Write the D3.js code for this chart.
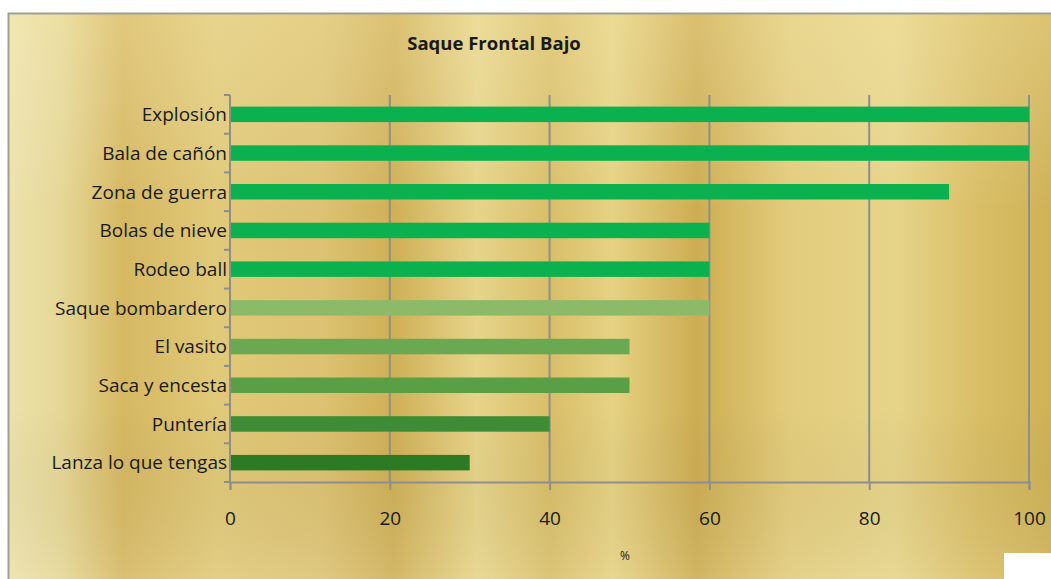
<!DOCTYPE html>
<html>
<head>
<meta charset="utf-8">
<script src="https://cdn.jsdelivr.net/npm/d3@7"></script>
<style>
  html, body { margin: 0; padding: 0; background: #ffffff; }
  svg { display: block; }
</style>
</head>
<body>
<svg id="chart" width="1051" height="579"></svg>
<script>
// data, top to bottom
const categories = [
  "Explosión", "Bala de cañón", "Zona de guerra", "Bolas de nieve", "Rodeo ball",
  "Saque bombardero", "El vasito", "Saca y encesta", "Puntería", "Lanza lo que tengas"
];
const values = [100, 100, 90, 60, 60, 60, 50, 50, 40, 30];
const barColors = [
  "#0cb14f", "#0cb14f", "#0cb14f", "#0cb14f", "#0cb14f",
  "#8dba68", "#6aa851", "#5a9e46", "#3f8c37", "#2c7a23"
];
const xTicks = [0, 20, 40, 60, 80, 100];
const title = "Saque Frontal Bajo";
const xTitle = "%";

const W = 1051, H = 579;
const margin = { top: 95, right: 22, bottom: 97, left: 230 };
const svg = d3.select("#chart");

// gold panel background
const defs = svg.append("defs");
const grad = defs.append("linearGradient").attr("id", "gold")
  .attr("x1", 0).attr("x2", 1).attr("y1", 0).attr("y2", 0);
[[0, "#ece2ab"], [0.05, "#e6d796"], [0.11, "#d6b862"], [0.2, "#e0c978"], [0.3, "#dcc272"],
 [0.37, "#cfb057"], [0.45, "#e6d48a"], [0.52, "#d8be68"], [0.58, "#e5d283"], [0.66, "#cdad52"],
 [0.75, "#e2cc7c"], [0.85, "#e6d489"], [0.93, "#d9be66"], [1, "#cfb256"]]
  .forEach(([o, c]) => grad.append("stop").attr("offset", o).attr("stop-color", c));
const shade = defs.append("linearGradient").attr("id", "shade")
  .attr("x1", 0).attr("x2", 0).attr("y1", 0).attr("y2", 1);
[[0, "#fff6c8", 0.25], [0.35, "#ffffff", 0], [0.7, "#000000", 0], [1, "#ffffff", 0.1]]
  .forEach(([o, c, a]) => shade.append("stop").attr("offset", o).attr("stop-color", c).attr("stop-opacity", a));

svg.append("rect").attr("x", 8).attr("y", 13).attr("width", W - 8).attr("height", H - 13)
  .attr("fill", "url(#gold)");
svg.append("rect").attr("x", 8).attr("y", 13).attr("width", W - 8).attr("height", H - 13)
  .attr("fill", "url(#shade)");
svg.append("path").attr("d", `M8.5,${H}V13.5H${W}`)
  .attr("fill", "none").attr("stroke", "#a09f96").attr("stroke-width", 2);
svg.append("rect").attr("x", 1004).attr("y", 553).attr("width", 47).attr("height", 26)
  .attr("fill", "#ffffff");

const x = d3.scaleLinear().domain([0, 100]).range([margin.left, W - margin.right]);
const y = d3.scaleBand().domain(categories).range([margin.top, H - margin.bottom]).paddingInner(0.6).paddingOuter(0.3);

const font = "'Open Sans', 'Noto Sans', sans-serif";
const axisColor = "#8e8e8e";

// vertical gridlines
svg.append("g").selectAll("line").data(xTicks.slice(1)).join("line")
  .attr("x1", d => x(d)).attr("x2", d => x(d))
  .attr("y1", margin.top).attr("y2", H - margin.bottom)
  .attr("stroke", axisColor).attr("stroke-width", 2);

// bars
svg.append("g").selectAll("rect").data(categories).join("rect")
  .attr("x", x(0))
  .attr("y", d => y(d))
  .attr("width", (d, i) => x(values[i]) - x(0))
  .attr("height", y.bandwidth())
  .attr("fill", (d, i) => barColors[i]);

// y axis
const yAxis = svg.append("g").attr("transform", `translate(${x(0)},0)`);
yAxis.append("line").attr("x1", 0).attr("x2", 0)
  .attr("y1", margin.top).attr("y2", H - margin.bottom)
  .attr("stroke", axisColor).attr("stroke-width", 2);
const bounds = d3.range(categories.length + 1).map(i => margin.top + i * (H - margin.top - margin.bottom) / categories.length);
yAxis.selectAll("line.tick").data(bounds).join("line").attr("class", "tick")
  .attr("x1", -6).attr("x2", 0).attr("y1", d => d).attr("y2", d => d)
  .attr("stroke", axisColor).attr("stroke-width", 2);
yAxis.selectAll("text").data(categories).join("text")
  .attr("x", -3)
  .attr("y", d => y(d) + y.bandwidth() / 2)
  .attr("dy", "0.36em")
  .attr("text-anchor", "end")
  .attr("font-family", font).attr("font-size", 19).attr("fill", "#1a1a1a")
  .text(d => d);

// x axis
const xAxis = svg.append("g").attr("transform", `translate(0,${H - margin.bottom})`)
  .call(d3.axisBottom(x).tickValues(xTicks).tickSize(8).tickPadding(22));
xAxis.select(".domain").attr("stroke", axisColor).attr("stroke-width", 2);
xAxis.selectAll(".tick line").attr("stroke", axisColor).attr("stroke-width", 2);
xAxis.selectAll(".tick text").attr("font-family", font).attr("font-size", 19).attr("fill", "#1a1a1a");

svg.append("text").attr("x", 625).attr("y", 560).attr("text-anchor", "middle")
  .attr("font-family", font).attr("font-size", 12).attr("fill", "#1a1a1a").text(xTitle);

svg.append("text").attr("x", 494).attr("y", 50).attr("text-anchor", "middle")
  .attr("font-family", font).attr("font-weight", "bold").attr("font-size", 18.5)
  .attr("fill", "#1a1a1a").text(title);
</script>
</body>
</html>
